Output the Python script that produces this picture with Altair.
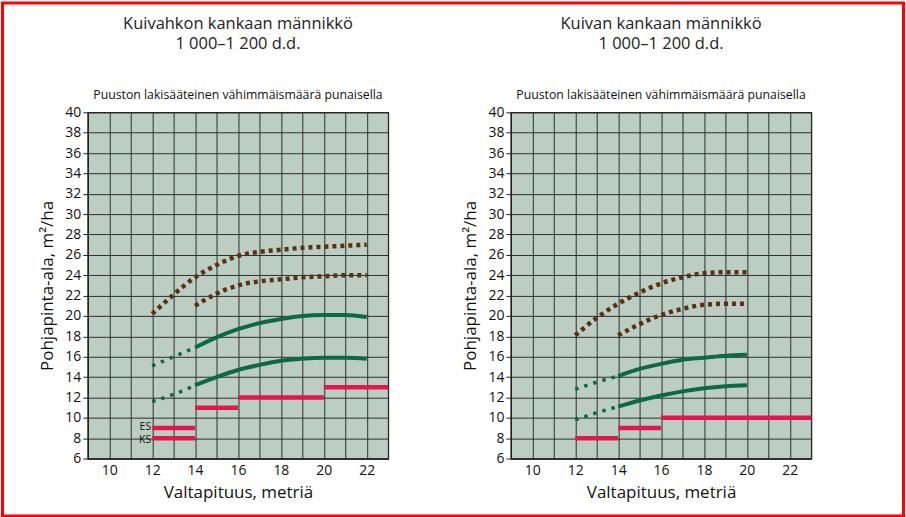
import altair as alt
import pandas as pd

# ---------------- data ----------------
# Left panel: Kuivahkon kankaan männikkö
L_brown_up_x = [12, 13, 14, 15, 16, 17, 18, 19, 20, 21, 22]
L_brown_up_y = [20.2, 22.1, 23.8, 25.0, 25.9, 26.3, 26.5, 26.7, 26.8, 26.9, 27.0]
L_brown_lo_x = [14, 15, 16, 17, 18, 19, 20, 21, 22]
L_brown_lo_y = [21.0, 22.2, 23.0, 23.4, 23.6, 23.8, 23.9, 24.0, 24.0]
L_green_up_dot_x = [12, 13, 14]
L_green_up_dot_y = [15.1, 16.0, 16.9]
L_green_up_x = [14, 15, 16, 17, 18, 19, 20, 21, 22]
L_green_up_y = [16.9, 17.9, 18.7, 19.3, 19.7, 20.0, 20.1, 20.1, 19.9]
L_green_lo_dot_x = [12, 13, 14]
L_green_lo_dot_y = [11.6, 12.3, 13.2]
L_green_lo_x = [14, 15, 16, 17, 18, 19, 20, 21, 22]
L_green_lo_y = [13.2, 14.0, 14.7, 15.2, 15.6, 15.8, 15.9, 15.9, 15.8]
L_red_x1 = [12, 12, 14, 16, 20]
L_red_x2 = [14, 14, 16, 20, 23]
L_red_y = [9, 8, 11, 12, 13]
L_red_lbl = ["ES", "KS", "", "", ""]

# Right panel: Kuivan kankaan männikkö
R_brown_up_x = [12, 13, 14, 15, 16, 17, 18, 19, 20]
R_brown_up_y = [18.1, 19.8, 21.2, 22.3, 23.2, 23.8, 24.2, 24.3, 24.3]
R_brown_lo_x = [14, 15, 16, 17, 18, 19, 20]
R_brown_lo_y = [18.1, 19.2, 20.1, 20.7, 21.1, 21.2, 21.2]
R_green_up_dot_x = [12, 13, 14]
R_green_up_dot_y = [12.8, 13.5, 14.1]
R_green_up_x = [14, 15, 16, 17, 18, 19, 20]
R_green_up_y = [14.1, 14.8, 15.3, 15.7, 15.9, 16.1, 16.2]
R_green_lo_dot_x = [12, 13, 14]
R_green_lo_dot_y = [9.8, 10.5, 11.1]
R_green_lo_x = [14, 15, 16, 17, 18, 19, 20]
R_green_lo_y = [11.1, 11.7, 12.2, 12.6, 12.9, 13.1, 13.2]
R_red_x1 = [12, 14, 16]
R_red_x2 = [14, 16, 23]
R_red_y = [8, 9, 10]

titles = [
    ["Kuivahkon kankaan männikkö", "1 000–1 200 d.d."],
    ["Kuivan kankaan männikkö", "1 000–1 200 d.d."],
]
subtitle = "Puuston lakisääteinen vähimmäismäärä punaisella"
x_title = "Valtapituus, metriä"
y_title = "Pohjapinta-ala, m²/ha"
x_grid_values = list(range(9, 24))
y_values = list(range(6, 41, 2))

# ---------------- styling ----------------
BROWN = "#5a3014"
GREEN = "#0b6a43"
RED = "#e2184d"
PLOT_BG = "#bccdc2"
GRID = "#2e2e2e"
FONT = "Open Sans"
W, H = 301, 347


def series_df(pairs):
    rows = []
    for sid, (xs, ys) in enumerate(pairs):
        for x, y in zip(xs, ys):
            rows.append({"x": x, "y": y, "s": sid})
    return pd.DataFrame(rows)


xscale = alt.Scale(domain=[9, 23], nice=False, zero=False)
yscale = alt.Scale(domain=[6, 40], nice=False, zero=False)

xaxis = alt.Axis(
    values=x_grid_values,
    labelExpr="(datum.value % 2 == 0 && datum.value >= 10 && datum.value <= 22) ? datum.label : ''",
    title=x_title, ticks=False, labelOverlap=False, labelFlush=False,
    labelPadding=5, titlePadding=7,
)
yaxis = alt.Axis(values=y_values, title=y_title, tickSize=5, labelPadding=2,
                 titlePadding=8, labelOverlap=False)


def text_layer(text, dy, size, color="#222"):
    return alt.Chart(pd.DataFrame({"t": [text]})).mark_text(
        align="center", baseline="middle", fontSize=size, font=FONT, color=color
    ).encode(x=alt.value(W / 2), y=alt.value(dy), text="t:N")


def panel(title, brown, gdot, gsolid, red_x1, red_x2, red_y, red_lbl=None, frame=False):
    X = lambda: alt.X("x:Q", scale=xscale, axis=xaxis)
    Y = lambda: alt.Y("y:Q", scale=yscale, axis=yaxis)
    layers = []
    layers.append(
        alt.Chart(series_df(brown)).mark_line(
            color=BROWN, strokeWidth=4.5, strokeDash=[4, 4], interpolate="monotone", strokeCap="butt"
        ).encode(x=X(), y=Y(), detail="s:N")
    )
    layers.append(
        alt.Chart(series_df(gdot)).mark_line(
            color=GREEN, strokeWidth=3.5, strokeDash=[3.5, 6], interpolate="monotone"
        ).encode(x=X(), y=Y(), detail="s:N")
    )
    layers.append(
        alt.Chart(series_df(gsolid)).mark_line(
            color=GREEN, strokeWidth=4, interpolate="monotone"
        ).encode(x=X(), y=Y(), detail="s:N")
    )
    rdf = pd.DataFrame({"x": red_x1, "x2": red_x2, "y": red_y})
    layers.append(
        alt.Chart(rdf).mark_rule(color=RED, strokeWidth=4.5, strokeCap="butt").encode(
            x=X(), x2="x2:Q", y=Y()
        )
    )
    if red_lbl is not None:
        ldf = pd.DataFrame({"x": red_x1, "y": red_y, "t": red_lbl})
        ldf = ldf[ldf["t"] != ""]
        es = ldf[ldf["t"] == "ES"]
        ks = ldf[ldf["t"] == "KS"]
        for sub, off in ((es, -1.5), (ks, 1.5)):
            layers.append(
                alt.Chart(sub).mark_text(align="right", baseline="middle", dx=-1, dy=off,
                                         fontSize=10.5, font=FONT, color="#111"
                                         ).encode(x=X(), y=Y(), text="t:N")
            )
    # titles as text
    layers.append(text_layer(title[0], -89, 16.5))
    layers.append(text_layer(title[1], -68, 16.5))
    layers.append(text_layer(subtitle, -17, 12.3, "#111"))
    if frame:
        layers.append(
            alt.Chart(pd.DataFrame({"a": [0]})).mark_rect(
                filled=False, stroke="#ff0000", strokeWidth=3
            ).encode(
                x=alt.value(-85.5), x2=alt.value(817.5),
                y=alt.value(-109.5), y2=alt.value(404.5)
            )
        )
    return alt.layer(*layers).properties(width=W, height=H)


left = panel(
    titles[0],
    [(L_brown_up_x, L_brown_up_y), (L_brown_lo_x, L_brown_lo_y)],
    [(L_green_up_dot_x, L_green_up_dot_y), (L_green_lo_dot_x, L_green_lo_dot_y)],
    [(L_green_up_x, L_green_up_y), (L_green_lo_x, L_green_lo_y)],
    L_red_x1, L_red_x2, L_red_y, L_red_lbl, frame=True,
)
right = panel(
    titles[1],
    [(R_brown_up_x, R_brown_up_y), (R_brown_lo_x, R_brown_lo_y)],
    [(R_green_up_dot_x, R_green_up_dot_y), (R_green_lo_dot_x, R_green_lo_dot_y)],
    [(R_green_up_x, R_green_up_y), (R_green_lo_x, R_green_lo_y)],
    R_red_x1, R_red_x2, R_red_y,
)

chart = alt.hconcat(left, right, spacing=123, bounds="flush").properties(
    padding=0, background="white"
).configure_view(
    fill=PLOT_BG, stroke="#222", strokeWidth=1.2
).configure_axis(
    grid=True, gridColor=GRID, gridWidth=1, gridOpacity=1,
    domainColor="#222", domainWidth=1.2, tickColor="#222",
    labelFont=FONT, labelFontSize=14, labelColor="#111",
    titleFont=FONT, titleFontSize=17, titleFontWeight="normal", titleColor="#111",
)

chart.save("out.html", embed_options={"renderer": "svg", "actions": False})
